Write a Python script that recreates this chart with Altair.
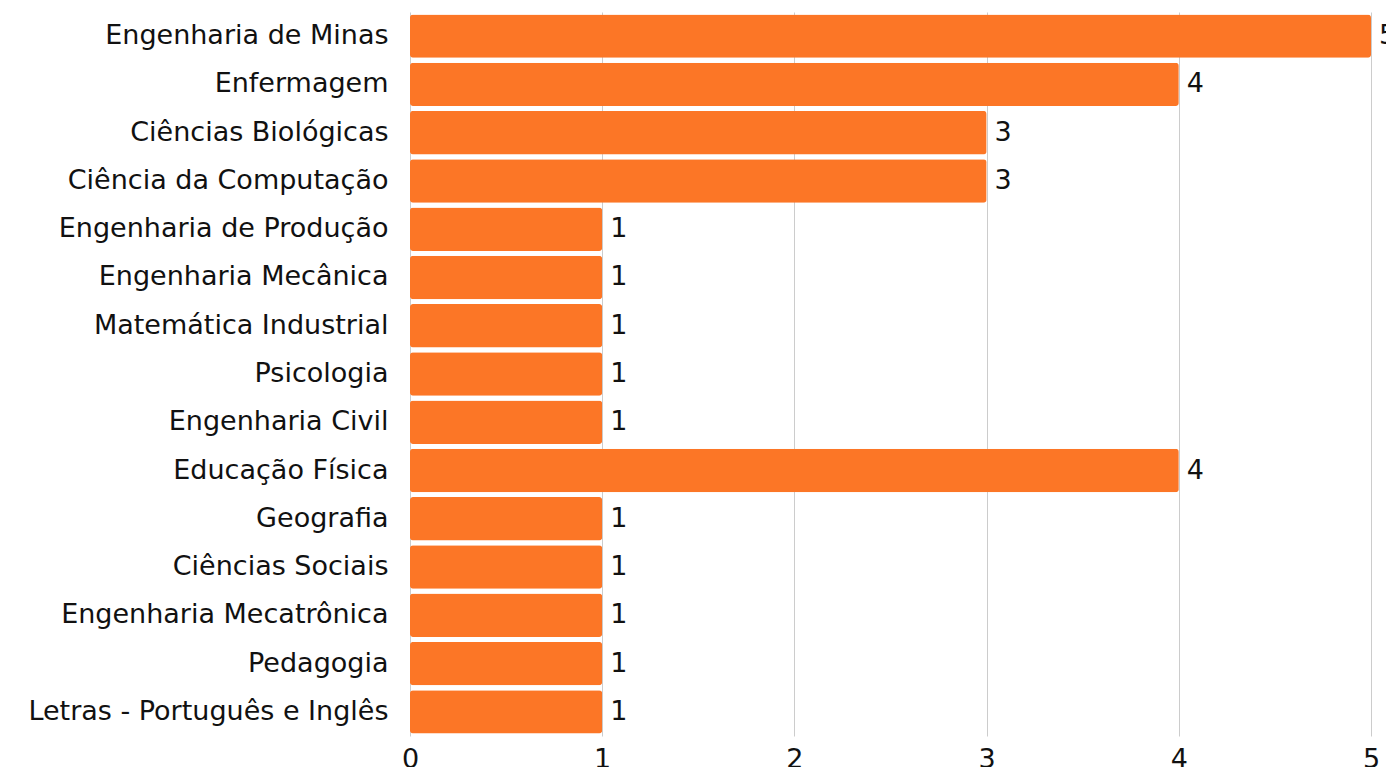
import altair as alt
import pandas as pd

cursos = [
    "Engenharia de Minas",
    "Enfermagem",
    "Ciências Biológicas",
    "Ciência da Computação",
    "Engenharia de Produção",
    "Engenharia Mecânica",
    "Matemática Industrial",
    "Psicologia",
    "Engenharia Civil",
    "Educação Física",
    "Geografia",
    "Ciências Sociais",
    "Engenharia Mecatrônica",
    "Pedagogia",
    "Letras - Português e Inglês",
]
valores = [5, 4, 3, 3, 1, 1, 1, 1, 1, 4, 1, 1, 1, 1, 1]
ticks_x = [0, 1, 2, 3, 4, 5]

df = pd.DataFrame({"curso": cursos, "valor": valores})

FONT = "DejaVu Sans"
FS = 27

y_enc = alt.Y(
    "curso:N",
    sort=cursos,
    title=None,
    scale=alt.Scale(paddingInner=0.1, paddingOuter=0.05),
    axis=alt.Axis(
        labelFont=FONT, labelFontSize=FS, labelColor="#111111",
        labelPadding=22, ticks=False, domain=False, grid=False,
        labelLimit=500,
    ),
)
x_enc = alt.X(
    "valor:Q",
    title=None,
    scale=alt.Scale(domain=[0, 5], nice=False),
    axis=alt.Axis(
        values=ticks_x, format="d",
        labelFont=FONT, labelFontSize=FS, labelColor="#111111",
        labelPadding=10, ticks=False, domain=False, labelFlush=False,
        grid=True, gridColor="#cccccc", gridWidth=1,
    ),
)

bars = alt.Chart(df).mark_bar(color="#FC7626", cornerRadius=3).encode(
    y=y_enc, x=x_enc
)
labels = alt.Chart(df).mark_text(
    align="left", baseline="middle", dx=8, font=FONT, fontSize=FS, color="#111111"
).encode(y=alt.Y("curso:N", sort=cursos), x="valor:Q", text="valor:Q")

chart = (
    alt.layer(bars, labels)
    .properties(
        width=961,
        height=724,
        autosize=alt.AutoSizeParams(type="none"),
        padding={"left": 402, "top": 4, "right": 15, "bottom": 31},
        background="white",
    )
    .configure_view(stroke=None)
)

chart.save("out.html", embed_options={"renderer": "svg", "actions": False})
